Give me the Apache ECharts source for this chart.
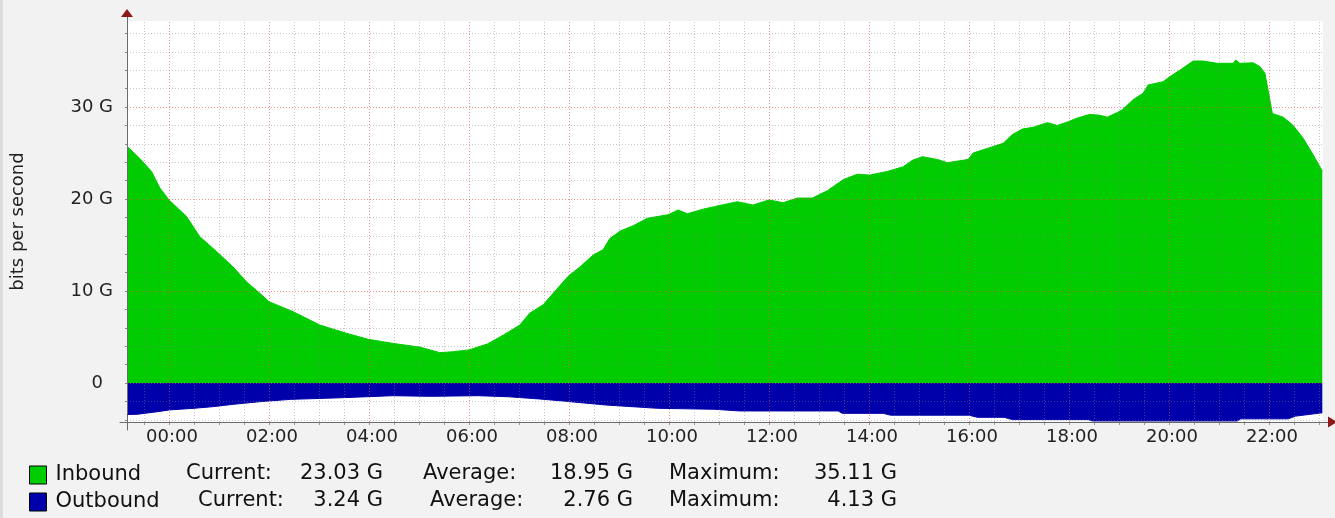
<!DOCTYPE html>
<html>
<head>
<meta charset="utf-8">
<script src="https://cdn.jsdelivr.net/npm/echarts@6/dist/echarts.min.js"></script>
<style>
html, body { margin: 0; padding: 0; background: #f2f2f2; }
#main { width: 1335px; height: 518px; }
</style>
</head>
<body>
<div id="main"></div>
<script>
// time in minutes after 00:00, traffic in G (bits per second)
var inTimes = [-50, -35, -21, -11, 0, 21, 37, 57, 77, 93, 109, 120, 149, 181, 213, 239, 269, 301, 325, 341,
  360, 382, 401, 421, 433, 449, 461, 479, 493, 509, 521, 529, 541, 557, 574, 599, 611, 622, 641, 661,
  682, 701, 720, 737, 754, 772, 790, 809, 826, 841, 862, 881, 892, 904, 922, 934, 959, 965, 982, 1001,
  1012, 1024, 1037, 1054, 1066, 1079, 1090, 1105, 1117, 1126, 1138, 1144, 1157, 1169, 1175, 1193, 1201, 1213, 1229, 1241,
  1258, 1277, 1280, 1285, 1301, 1309, 1315, 1319, 1324, 1337, 1349, 1361, 1373, 1384];
var inValues = [25.7, 24.4, 23.0, 21.2, 19.9, 18.1, 15.9, 14.3, 12.6, 11.0, 9.75, 8.84, 7.75, 6.3, 5.4, 4.75, 4.3, 3.9, 3.3, 3.4,
  3.6, 4.24, 5.2, 6.3, 7.6, 8.5, 9.75, 11.6, 12.6, 13.9, 14.5, 15.7, 16.5, 17.1, 17.9, 18.3, 18.8, 18.4, 18.9, 19.3,
  19.7, 19.35, 19.9, 19.6, 20.1, 20.1, 20.9, 22.1, 22.7, 22.6, 23.0, 23.5, 24.2, 24.6, 24.3, 23.95, 24.3, 25.0, 25.5, 26.05,
  27.0, 27.6, 27.8, 28.3, 28.0, 28.4, 28.8, 29.2, 29.1, 28.9, 29.4, 29.7, 30.8, 31.5, 32.4, 32.75, 33.3, 34.0, 35.0, 35.0,
  34.75, 34.75, 35.11, 34.75, 34.8, 34.4, 33.7, 31.8, 29.3, 28.9, 28.0, 26.6, 24.8, 23.03];

var outTimes = [-50, -38, -12, 0, 30, 53, 77, 109, 146, 208, 268, 314, 371, 408, 445, 473, 524, 586, 655, 685,
  803, 808, 857, 866, 960, 970, 1002, 1012, 1103, 1108, 1282, 1286, 1343, 1352, 1384];
var outValues = [-3.42, -3.4, -3.1, -2.93, -2.75, -2.57, -2.32, -2.03, -1.78, -1.6, -1.38, -1.45, -1.38, -1.5, -1.74, -1.96, -2.39, -2.75, -2.86, -3.04,
  -3.04, -3.3, -3.3, -3.5, -3.5, -3.73, -3.73, -3.98, -3.98, -4.13, -4.13, -3.9, -3.9, -3.6, -3.24];

var hourTicks = [0, 120, 240, 360, 480, 600, 720, 840, 960, 1080, 1200, 1320];
var yLabelValues = [0, 10, 20, 30];

var legendNames = ['Inbound', 'Outbound'];
var statLabels = ['Current:', 'Average:', 'Maximum:'];
var statValues = [
  ['23.03 G', '18.95 G', '35.11 G'],
  ['3.24 G', '2.76 G', '4.13 G']
];

// axis ranges matching the plot box
var X_MIN = -50.4, X_MAX = 1384.8;
var Y_MIN = -4.24, Y_MAX = 39.35;

var allX = [], minorX = [];
for (var t = -30; t <= 1380; t += 30) { allX.push(t); if (t % 120 !== 0) minorX.push(t); }
var allY = [], minorY = [];
for (var g = -4; g <= 38; g += 2) { allY.push(g); if (g % 10 !== 0) minorY.push(g); }

function zip(xs, ys) {
  return xs.map(function (x, i) { return [x, ys[i]]; });
}
function hhmm(v) {
  var h = Math.round(v / 60);
  return (h < 10 ? '0' : '') + h + ':00';
}

var FONT = 'DejaVu Sans';

// grid is drawn on top of the areas, half transparent like rrdtool does
var minorGrid = { color: 'rgba(130,130,130,0.45)', type: [1, 2], width: 1 };
var majorGrid = { color: 'rgba(240,70,70,0.6)', type: [1, 2], width: 1 };
var gridLines = [];
minorX.forEach(function (v) { gridLines.push({ xAxis: v, lineStyle: minorGrid }); });
minorY.forEach(function (v) { gridLines.push({ yAxis: v, lineStyle: minorGrid }); });
hourTicks.forEach(function (v) { gridLines.push({ xAxis: v, lineStyle: majorGrid }); });
yLabelValues.forEach(function (v) { gridLines.push({ yAxis: v, lineStyle: majorGrid }); });

// stat text positions in the legend block
var rowY = [473.5, 500.5];
var labelX = [[186, 423, 669], [198, 430, 669]];
var valueRight = [383, 633, 897];

var graphics = [{
  type: 'rect', left: 0, top: 0, shape: { width: 3, height: 518 }, style: { fill: '#dcdcdc' }
}];
statValues.forEach(function (row, r) {
  row.forEach(function (val, i) {
    graphics.push({ type: 'text', x: labelX[r][i], y: rowY[r],
      style: { text: statLabels[i], font: '21px "' + FONT + '"', fill: '#111', align: 'left', verticalAlign: 'middle' } });
    graphics.push({ type: 'text', x: valueRight[i], y: rowY[r],
      style: { text: val, font: '21px "' + FONT + '"', fill: '#111', align: 'right', verticalAlign: 'middle' } });
  });
});

var chart = echarts.init(document.getElementById('main'));
chart.setOption({
  animation: false,
  backgroundColor: '#f2f2f2',
  grid: [
    { left: 127, right: 12, top: 21, bottom: 96, show: true, backgroundColor: '#ffffff', borderWidth: 0 },
    { left: 120, right: 5, top: 13, bottom: 88 }
  ],
  legend: {
    orient: 'vertical', left: 29, top: 464.5, padding: 0, itemGap: 6,
    itemWidth: 17, itemHeight: 18, icon: 'rect', selectedMode: false,
    itemStyle: { borderColor: '#000', borderWidth: 1 },
    textStyle: { fontFamily: FONT, fontSize: 21, color: '#111', lineHeight: 18, padding: [0, 0, 0, 4] },
    data: legendNames
  },
  xAxis: [
    {
      gridIndex: 0, type: 'value', position: 'bottom', min: X_MIN, max: X_MAX,
      axisLine: { show: false, onZero: false },
      axisTick: { show: true, customValues: allX, length: 3, lineStyle: { color: '#999' } },
      splitLine: { show: false },
      axisLabel: { show: true, customValues: hourTicks, formatter: hhmm, fontFamily: FONT, fontSize: 18,
        color: '#222', margin: 6, padding: [0, 0, 0, 6] }
    },
    {
      gridIndex: 0, type: 'value', position: 'bottom', min: X_MIN, max: X_MAX, z: 3,
      axisLine: { show: true, onZero: false, symbol: ['none', 'triangle'], symbolSize: [11, 9], symbolOffset: [0, 9.5],
        lineStyle: { color: '#8b1a1a', width: 0 } },
      axisTick: { show: false }, splitLine: { show: false }, axisLabel: { show: false }
    },
    {
      gridIndex: 1, type: 'value', position: 'bottom', offset: -8, min: 0, max: 1, z: 3,
      axisLine: { show: true, onZero: false, lineStyle: { color: '#6a6a6a', width: 1 } },
      axisTick: { show: false }, splitLine: { show: false }, axisLabel: { show: false }
    }
  ],
  yAxis: [
    {
      gridIndex: 0, type: 'value', position: 'left', min: Y_MIN, max: Y_MAX,
      axisLine: { show: false, onZero: false },
      axisTick: { show: true, customValues: allY, length: 2, lineStyle: { color: '#888' } },
      splitLine: { show: false },
      axisLabel: {
        show: true, customValues: yLabelValues, margin: 14, fontFamily: FONT, fontSize: 18, color: '#222',
        formatter: function (v) { return v === 0 ? '{z|0}' : v + ' G'; },
        rich: { z: { fontFamily: FONT, fontSize: 18, color: '#222', padding: [0, 10, 0, 0] } }
      },
      name: 'bits per second', nameLocation: 'middle', nameGap: 100,
      nameTextStyle: { fontFamily: FONT, fontSize: 18, color: '#222' }
    },
    {
      gridIndex: 0, type: 'value', position: 'left', min: Y_MIN, max: Y_MAX, z: 3,
      axisLine: { show: true, onZero: false, symbol: ['none', 'triangle'], symbolSize: [12, 8], symbolOffset: [0, 8],
        lineStyle: { color: '#8b1a1a', width: 0 } },
      axisTick: { show: false }, splitLine: { show: false }, axisLabel: { show: false }
    },
    {
      gridIndex: 1, type: 'value', position: 'left', offset: -7, min: 0, max: 1, z: 3,
      axisLine: { show: true, onZero: false, lineStyle: { color: '#6a6a6a', width: 1 } },
      axisTick: { show: false }, splitLine: { show: false }, axisLabel: { show: false }
    }
  ],
  graphic: graphics,
  series: [
    {
      name: 'Inbound', type: 'line', xAxisIndex: 0, yAxisIndex: 0,
      data: zip(inTimes, inValues), symbol: 'none', showSymbol: false,
      color: '#00cc00', lineStyle: { width: 1, color: '#00cc00' },
      areaStyle: { color: '#00cc00', opacity: 1 }
    },
    {
      name: 'Outbound', type: 'line', xAxisIndex: 0, yAxisIndex: 0,
      data: zip(outTimes, outValues), symbol: 'none', showSymbol: false,
      color: '#0000aa', lineStyle: { width: 1, color: '#0000aa' },
      areaStyle: { color: '#0000aa', opacity: 1 },
      markLine: {
        silent: true, animation: false, symbol: ['none', 'none'], label: { show: false },
        emphasis: { disabled: true }, data: gridLines
      }
    }
  ]
});
</script>
</body>
</html>
